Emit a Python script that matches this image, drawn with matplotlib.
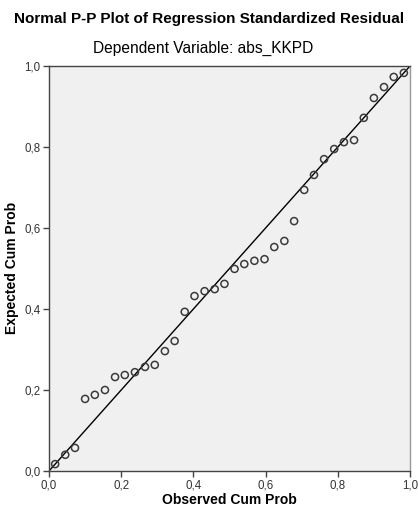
import matplotlib.pyplot as plt

plt.rcParams['font.family'] = ['Liberation Sans', 'DejaVu Sans']

# observed vs expected cumulative probabilities
observed = [0.017, 0.045, 0.072, 0.100, 0.127, 0.155, 0.183, 0.210, 0.238,
            0.266, 0.293, 0.321, 0.348, 0.376, 0.403, 0.431, 0.459, 0.486,
            0.514, 0.541, 0.569, 0.597, 0.624, 0.652, 0.679, 0.707, 0.734,
            0.762, 0.790, 0.817, 0.845, 0.872, 0.900, 0.928, 0.955, 0.983]
expected = [0.017, 0.040, 0.057, 0.178, 0.188, 0.200, 0.232, 0.237, 0.244,
            0.257, 0.262, 0.296, 0.321, 0.393, 0.432, 0.444, 0.449, 0.462,
            0.499, 0.511, 0.519, 0.523, 0.553, 0.568, 0.617, 0.694, 0.731,
            0.770, 0.795, 0.812, 0.817, 0.872, 0.921, 0.948, 0.973, 0.983]

ticks = [0.0, 0.2, 0.4, 0.6, 0.8, 1.0]
tick_labels = ['0,0', '0,2', '0,4', '0,6', '0,8', '1,0']

fig = plt.figure(figsize=(4.18, 5.17), dpi=100)
ax = fig.add_axes([49 / 418, 46 / 517, 361 / 418, 405 / 517])
ax.set_facecolor('#f0f0f0')

# reference line
ax.plot([0, 1], [0, 1], color='black', lw=1)

# points
ax.scatter(observed, expected, s=26, facecolors='none', edgecolors='#3a3a3a',
           linewidths=1.1, zorder=3)

ax.set_xlim(0, 1)
ax.set_ylim(0, 1)
ax.set_xticks(ticks)
ax.set_xticklabels(tick_labels)
ax.set_yticks(ticks)
ax.set_yticklabels(tick_labels)
ax.tick_params(direction='out', length=4, width=1, colors='#444444',
               labelsize=8.3, labelcolor='#333333', pad=2)

for s in ax.spines.values():
    s.set_color('#444444')
    s.set_linewidth(1)
ax.spines['right'].set_color('#999999')

# axis titles
fig.text(0.5 + 20 / 418, 1 - 500 / 517, 'Observed Cum Prob', ha='center',
         va='center', fontsize=10, fontweight='bold')
fig.text(12 / 418, 1 - 268 / 517, 'Expected Cum Prob', ha='center',
         va='center', rotation=90, fontsize=10, fontweight='bold')

fig.text(0.5, 1 - 19 / 517, 'Normal P-P Plot of Regression Standardized Residual',
         ha='center', va='center', fontsize=11, fontweight='bold')
fig.text(0.485, 1 - 48 / 517, 'Dependent Variable: abs_KKPD',
         ha='center', va='center', fontsize=11.2)

fig.savefig('out.png', dpi=100)
